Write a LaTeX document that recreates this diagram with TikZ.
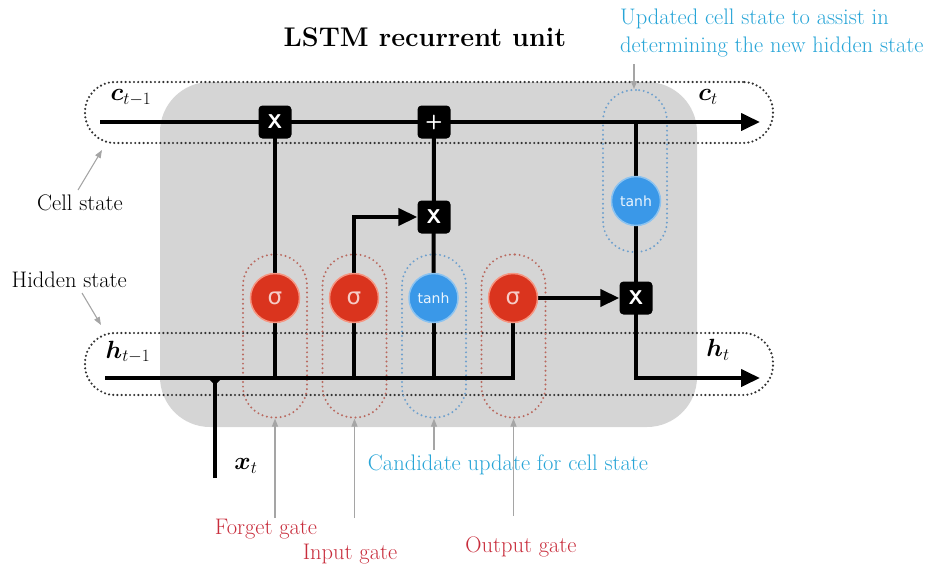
\documentclass[tikz,border=0pt]{standalone}
\usepackage{amsmath}
\usepackage{fontspec}
\newfontfamily\symfont{DejaVu Sans}
\usetikzlibrary{arrows.meta}
\definecolor{bggray}{RGB}{213,213,213}
\definecolor{sigred}{RGB}{218,52,30}
\definecolor{sigring}{RGB}{245,150,130}
\definecolor{tblue}{RGB}{58,152,232}
\definecolor{tring}{RGB}{140,195,240}
\definecolor{dotgray}{RGB}{50,50,50}
\definecolor{dotred}{RGB}{185,105,95}
\definecolor{dotblue}{RGB}{110,160,205}
\definecolor{txtred}{RGB}{200,45,60}
\definecolor{txtblue}{RGB}{40,165,215}
\definecolor{notegray}{RGB}{165,165,165}
\pgfdeclarelayer{bg}
\pgfdeclarelayer{mid}
\pgfsetlayers{bg,mid,main}
\tikzset{
  blk/.style={line width=4pt, black},
  arr/.style={blk, -{Triangle[length=19pt,width=17pt]}},
  opbox/.style={fill=black, rounded corners=4pt, minimum size=33pt, inner sep=0pt, text=white, font=\sffamily\bfseries\fontsize{20}{20}\selectfont},
  sig/.style={circle, fill=sigred, draw=sigring, line width=1.5pt, minimum size=49pt, inner sep=0pt, text=white!75!sigred, font=\symfont\fontsize{23}{23}\selectfont},
  th/.style={circle, fill=tblue, draw=tring, line width=1.5pt, minimum size=49pt, inner sep=0pt, text=white!90!tblue, font=\symfont\fontsize{14}{14}\selectfont},
  statebox/.style={draw=dotgray, line width=2.4pt, line cap=round, dash pattern=on 0pt off 4.2pt, rounded corners=30pt, minimum width=688pt, inner sep=0pt},
  redbox/.style={draw=dotred, line width=2.2pt, line cap=round, dash pattern=on 0pt off 4.6pt, rounded corners=31pt, minimum width=64pt, minimum height=163pt, inner sep=0pt},
  bluebox/.style={redbox, draw=dotblue},
  note/.style={draw=notegray, line width=1.1pt, -{Triangle[length=8pt,width=6pt]}},
  ann/.style={font=\fontsize{22.5}{28}\selectfont, inner sep=0pt},
  mlab/.style={font=\fontsize{25}{25}\selectfont, inner sep=0pt}
}
\begin{document}
\begin{tikzpicture}[x=1pt,y=-1pt]
\useasboundingbox (0,0) rectangle (940,568);
% background shapes
\begin{pgfonlayer}{bg}
\node[fill=bggray, rounded corners=50pt, minimum width=537pt, minimum height=345pt, inner sep=0pt] (unit) at (428.5,254.5) {};
\node[statebox, minimum height=61pt] (cbox) at (429,112.5) {};
\node[statebox, minimum height=62pt] (hbox) at (429,364) {};
\node[redbox] (fgbox) at (275,336) {};
\node[redbox] (igbox) at (354.5,336) {};
\node[bluebox] (cubox) at (434,336) {};
\node[redbox] (ogbox) at (513.5,336) {};
\node[bluebox, minimum height=162pt] (ucbox) at (635,171) {};
\end{pgfonlayer}
% operation nodes
\node[opbox] (fx) at (275,122) {X};
\node[opbox] (plus) at (434,122) {+};
\node[opbox] (ix) at (434,217) {X};
\node[opbox] (ox) at (636,298) {X};
\node[sig] (fs) at (275,298) {σ};
\node[sig] (is) at (354,298) {σ};
\node[th] (ts) at (433.5,298) {tanh};
\node[sig] (os) at (513,298) {σ};
\node[th] (tc) at (636,201) {tanh};
% coordinates
\coordinate (c0) at (100,122);
\coordinate (c1) at (760,122);
\coordinate (h0) at (105,378);
\coordinate (h1) at (760,378);
\coordinate (xin) at (215,478);
% connectors
\begin{pgfonlayer}{mid}
\draw[arr] (c0) -- (c1);
\draw[blk] (h0) -- (os.center |- h0) -- (os.center);
\draw[blk] (xin) -- (xin |- h0);
\fill (xin |- h0) ++(-7,0) -- ++(14,0) -- ++(-7,7) -- cycle;
\draw[blk] (fs.center) -- (fs.center |- h0);
\draw[blk] (is.center) -- (is.center |- h0);
\draw[blk] (ts.center) -- (ts.center |- h0);
\draw[blk] (fs.center) -- (fx.center);
\draw[arr] (is.center) |- (ix.west);
\draw[blk] (ts.center) -- (plus.center);
\draw[arr] (os.east) -- (ox.west);
\draw[blk] (tc.center |- c0) -- (ox.center);
\draw[arr] (ox.center) |- (h1);
\end{pgfonlayer}
% math labels
\node[mlab] (lc0) at (131,98) {$\boldsymbol{c}_{t-1}$};
\node[mlab] (lc1) at (708,97) {$\boldsymbol{c}_t$};
\node[mlab] (lh0) at (128,352) {$\boldsymbol{h}_{t-1}$};
\node[mlab] (lh1) at (718,350) {$\boldsymbol{h}_t$};
\node[mlab] (lx) at (246,466) {$\boldsymbol{x}_t$};
% title
\node[font=\bfseries\fontsize{27}{27}\selectfont, inner sep=0pt] (title) at (425,37) {LSTM recurrent unit};
% annotations
\node[ann, anchor=east] (cs) at (123,203) {Cell state};
\node[ann, anchor=east] (hs) at (127,280) {Hidden state};
\draw[note] (78,190) -- (102,150);
\draw[note] (82,293) -- (101,325);
\node[ann, text=txtblue, align=left, anchor=west] (upd) at (620,33) {Updated cell state to assist in\\determining the new hidden state};
\draw[note] (634,64) -- (634,89);
\node[ann, text=txtblue] (cand) at (508,465) {Candidate update for cell state};
\draw[note] (cand.north -| cubox.south) ++(0,-5) -- (cubox.south);
\node[ann, text=txtred] (fg) at (266,529) {Forget gate};
\node[ann, text=txtred] (ig) at (350,554) {Input gate};
\node[ann, text=txtred] (og) at (521,547) {Output gate};
\draw[note] (275,518) -- (fgbox.south);
\draw[note] (354.5,518) -- (igbox.south);
\draw[note] (513.5,516) -- (ogbox.south);
\end{tikzpicture}
\end{document}
